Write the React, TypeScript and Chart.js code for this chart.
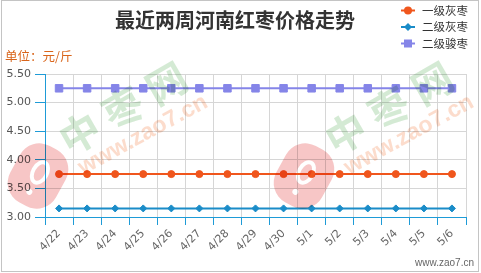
import React, { useEffect, useRef } from 'react';
import { Chart, registerables } from 'chart.js';

Chart.register(...registerables);

const categories = ['4/22', '4/23', '4/24', '4/25', '4/26', '4/27', '4/28', '4/29', '4/30', '5/1', '5/2', '5/3', '5/4', '5/5', '5/6'];
const gradeOneHui = [3.75, 3.75, 3.75, 3.75, 3.75, 3.75, 3.75, 3.75, 3.75, 3.75, 3.75, 3.75, 3.75, 3.75, 3.75];
const gradeTwoHui = [3.15, 3.15, 3.15, 3.15, 3.15, 3.15, 3.15, 3.15, 3.15, 3.15, 3.15, 3.15, 3.15, 3.15, 3.15];
const gradeTwoJun = [5.25, 5.25, 5.25, 5.25, 5.25, 5.25, 5.25, 5.25, 5.25, 5.25, 5.25, 5.25, 5.25, 5.25, 5.25];
const seriesNames = ['一级灰枣', '二级灰枣', '二级骏枣'];
const yTickLabels = ['3.00', '3.50', '4.00', '4.50', '5.00', '5.50'];
const titleText = '最近两周河南红枣价格走势';
const unitText = '单位：元/斤';
const siteText = 'www.zao7.cn';

const ORANGE = '#f0561d';
const BLUE = '#1a8cc8';
const PURPLE = '#8585e8';
const AXIS = '#1e9bd7';
const GRID = '#d6d6d6';

const decorPlugin = {
  id: 'decor',
  beforeDraw(chart: any) {
    const ctx = chart.ctx;
    ctx.save();
    ctx.fillStyle = '#ffffff';
    ctx.fillRect(0, 0, chart.width, chart.height);
    ctx.restore();
  },
  afterDatasetsDraw(chart: any) {
    const ctx = chart.ctx;
    ctx.save();
    ctx.globalCompositeOperation = 'multiply';
    [0, 266].forEach((dx) => {
      // logo
      ctx.save();
      ctx.translate(38 + dx, 176);
      ctx.rotate(0.5);
      ctx.beginPath();
      const w = 52, h = 64, r = 22;
      ctx.moveTo(-w / 2 + r, -h / 2);
      ctx.arcTo(w / 2, -h / 2, w / 2, h / 2, r);
      ctx.arcTo(w / 2, h / 2, -w / 2, h / 2, r);
      ctx.arcTo(-w / 2, h / 2, -w / 2, -h / 2, r);
      ctx.arcTo(-w / 2, -h / 2, w / 2, -h / 2, r);
      ctx.closePath();
      ctx.ellipse(0, -4, 9, 13, 0, 0, Math.PI * 2, true);
      ctx.moveTo(5, -4);
      ctx.ellipse(0, -4, 5, 9, 0, 0, Math.PI * 2);
      ctx.moveTo(3, 18);
      ctx.arc(0, 18, 3, 0, Math.PI * 2);
      ctx.fillStyle = 'rgb(247,198,198)';
      ctx.fill('evenodd');
      ctx.restore();
      // green characters
      ctx.save();
      const ang = -Math.PI / 6;
      ctx.font = 'bold 40px "Noto Sans CJK SC"';
      ctx.textAlign = 'center';
      ctx.textBaseline = 'middle';
      ctx.fillStyle = 'rgb(212,234,212)';
      const chars = ['中', '枣', '网'];
      chars.forEach((c, i) => {
        const t = (i - 1) * 50;
        ctx.save();
        ctx.translate(123 + dx + Math.cos(ang) * t, 108 + Math.sin(ang) * t);
        ctx.rotate(ang);
        ctx.fillText(c, 0, 0);
        ctx.restore();
      });
      ctx.restore();
      // pink site text
      ctx.save();
      ctx.translate(143 + dx, 135);
      ctx.rotate(-0.5);
      ctx.font = 'bold 23px "Liberation Sans"';
      ctx.textAlign = 'center';
      ctx.textBaseline = 'middle';
      ctx.fillStyle = 'rgb(252,220,204)';
      ctx.fillText(siteText, 0, 0);
      ctx.restore();
    });
    ctx.restore();
  },
  afterDraw(chart: any) {
    const ctx = chart.ctx;
    ctx.save();
    // title
    ctx.fillStyle = '#333333';
    ctx.font = 'bold 20px "Noto Sans CJK SC"';
    ctx.textAlign = 'center';
    ctx.textBaseline = 'middle';
    ctx.fillText(titleText, 235, 20);
    // unit
    ctx.fillStyle = '#d9651b';
    ctx.font = '12.5px "Noto Sans CJK SC"';
    ctx.textAlign = 'left';
    ctx.fillText(unitText, 5, 56);
    // legend
    chart.data.datasets.forEach((ds: any, i: number) => {
      const y = 10.5 + i * 16.5;
      ctx.strokeStyle = ds.borderColor;
      ctx.lineWidth = 2;
      ctx.beginPath();
      ctx.moveTo(401, y);
      ctx.lineTo(415, y);
      ctx.stroke();
      ctx.fillStyle = ds.borderColor;
      ctx.beginPath();
      if (ds.pointStyle === 'circle') {
        ctx.arc(408, y, 4, 0, Math.PI * 2);
      } else if (ds.pointStyle === 'rectRot') {
        ctx.moveTo(408, y - 4);
        ctx.lineTo(412, y);
        ctx.lineTo(408, y + 4);
        ctx.lineTo(404, y);
        ctx.closePath();
      } else {
        ctx.rect(404, y - 4, 8, 8);
      }
      ctx.fill();
      ctx.fillStyle = '#333333';
      ctx.font = '11.5px "Noto Sans CJK SC"';
      ctx.textAlign = 'left';
      ctx.textBaseline = 'middle';
      ctx.fillText(ds.label, 422, y);
    });
    // site footer
    ctx.fillStyle = '#666666';
    ctx.font = '10px "Liberation Sans"';
    ctx.textAlign = 'right';
    ctx.fillText(siteText, 474, 263);
    // border
    ctx.strokeStyle = '#c4c4c4';
    ctx.lineWidth = 1;
    ctx.strokeRect(1.5, 0.5, 477, 271);
    ctx.restore();
  },
};

export default function App() {
  const ref = useRef<HTMLCanvasElement | null>(null);
  useEffect(() => {
    document.body.style.margin = '0';
    const canvas = ref.current;
    if (!canvas) return;
    const mk = (label: string, data: number[], color: string, style: string, radius: number) => ({
      label,
      data,
      borderColor: color,
      backgroundColor: color,
      pointBackgroundColor: color,
      pointBorderColor: color,
      pointBorderWidth: 1,
      pointStyle: style,
      pointRadius: radius,
      borderWidth: 2,
      tension: 0,
      fill: false,
    });
    const chart = new Chart(canvas, {
      type: 'line',
      data: {
        labels: categories,
        datasets: [
          mk(seriesNames[0], gradeOneHui, ORANGE, 'circle', 3.5),
          mk(seriesNames[1], gradeTwoHui, BLUE, 'rectRot', 3.5),
          mk(seriesNames[2], gradeTwoJun, PURPLE, 'rect', 5.3),
        ],
      } as any,
      options: {
        responsive: false,
        animation: false,
        devicePixelRatio: 1,
        layout: { padding: { top: 74, right: 15, left: 0, bottom: 0 } },
        plugins: {
          legend: { display: false },
          title: { display: false },
          tooltip: { enabled: false },
        },
        scales: {
          x: {
            type: 'category',
            offset: true,
            grid: { offset: true, color: GRID, tickColor: AXIS, tickLength: 8, lineWidth: 1 },
            border: { color: AXIS, width: 1 },
            ticks: {
              minRotation: 45,
              maxRotation: 45,
              autoSkip: false,
              padding: 2,
              color: '#666666',
              font: { family: '"DejaVu Sans"', size: 11 },
            },
            afterFit: (s: any) => {
              s.height = 56;
            },
          },
          y: {
            min: 3,
            max: 5.5,
            grid: { color: GRID, tickColor: AXIS, tickLength: 10, lineWidth: 1 },
            border: { color: AXIS, width: 1 },
            ticks: {
              stepSize: 0.5,
              padding: 4,
              color: '#555555',
              font: { family: '"DejaVu Sans"', size: 11 },
              callback: (v: any) => {
                const idx = Math.round((Number(v) - 3) / 0.5);
                return yTickLabels[idx] ?? '';
              },
            },
            afterFit: (s: any) => {
              s.width = 45;
            },
          },
        },
      } as any,
      plugins: [decorPlugin],
    });
    return () => chart.destroy();
  }, []);
  return (
    <div style={{ width: 481, height: 273 }}>
      <canvas ref={ref} width={481} height={273} style={{ display: 'block', width: 481, height: 273 }} />
    </div>
  );
}
